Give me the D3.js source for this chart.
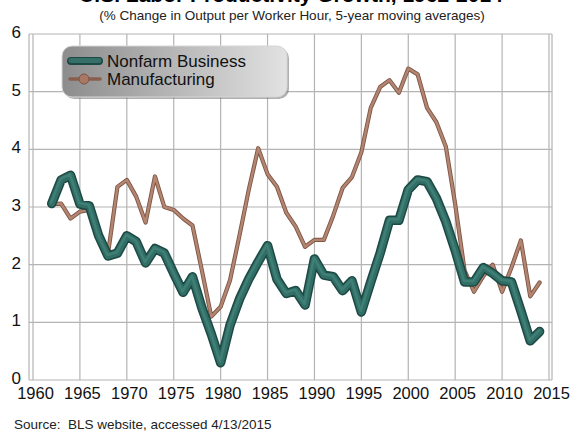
<!DOCTYPE html>
<html>
<head>
<meta charset="utf-8">
<script src="https://cdn.jsdelivr.net/npm/d3@7"></script>
<style>
  body { margin: 0; background: #fff; }
  svg { display: block; font-family: "Liberation Sans", Arial, sans-serif; }
</style>
</head>
<body>
<svg id="chart" width="582" height="432"></svg>
<script>
'use strict';

// years of the 5-year moving averages
var years = d3.range(1962, 2015);

// Nonfarm Business, % change in output per worker hour
var nonfarm = [3.06, 3.47, 3.55, 3.05, 3.02, 2.5, 2.15, 2.2, 2.5, 2.4,
  2.03, 2.28, 2.2, 1.85, 1.52, 1.79, 1.25, 0.8, 0.3, 0.95,
  1.4, 1.75, 2.05, 2.33, 1.75, 1.5, 1.55, 1.3, 2.1, 1.82,
  1.79, 1.55, 1.72, 1.18, 1.7, 2.2, 2.77, 2.77, 3.3, 3.47,
  3.44, 3.15, 2.75, 2.25, 1.7, 1.7, 1.95, 1.85, 1.72, 1.7,
  1.2, 0.68, 0.84];

// Manufacturing
var manufacturing = [3.05, 3.06, 2.8, 2.92, 2.95, 2.55, 2.2, 3.35, 3.47, 3.18,
  2.73, 3.53, 3.0, 2.95, 2.8, 2.68, 1.9, 1.1, 1.27, 1.73,
  2.5, 3.3, 4.02, 3.57, 3.35, 2.9, 2.66, 2.31, 2.43, 2.43,
  2.85, 3.33, 3.52, 3.95, 4.72, 5.08, 5.2, 4.98, 5.4, 5.3,
  4.72, 4.47, 4.05, 3.05, 1.9, 1.53, 1.8, 2.0, 1.53, 1.95,
  2.42, 1.45, 1.69];

var xTicks = d3.range(1960, 2016, 5);
var yTicks = [0, 1, 2, 3, 4, 5, 6];

var svg = d3.select("#chart");

var x = d3.scaleLinear().domain([1960, 2015]).range([33, 549]);
var y = d3.scaleLinear().domain([0, 6]).range([380, 34]);

//
// titles (main title sits mostly above the visible area, as in the source)
//
svg.append("text")
  .attr("x", 291).attr("y", 2)
  .attr("text-anchor", "middle")
  .style("font-size", "21px").style("font-weight", "bold")
  .text("U.S. Labor Productivity Growth, 1962-2014");

svg.append("text")
  .attr("x", 292).attr("y", 20)
  .attr("text-anchor", "middle")
  .style("font-size", "13.5px").attr("fill", "#222")
  .text("(% Change in Output per Worker Hour, 5-year moving averages)");

//
// grid
//
var grid = svg.append("g").attr("stroke", "#b4b4b4").attr("stroke-width", 1.2);

grid.selectAll(".vx").data(xTicks).enter().append("line")
  .attr("x1", d => x(d)).attr("x2", d => x(d))
  .attr("y1", y(6)).attr("y2", y(0));

grid.selectAll(".hy").data(yTicks).enter().append("line")
  .attr("x1", x(1960) - 4).attr("x2", x(2015) + 3)
  .attr("y1", d => y(d)).attr("y2", d => y(d));

grid.append("line")
  .attr("x1", x(1960) - 4).attr("x2", x(1960) - 4)
  .attr("y1", y(6)).attr("y2", y(0));
grid.append("line")
  .attr("x1", x(2015) + 3).attr("x2", x(2015) + 3)
  .attr("y1", y(6)).attr("y2", y(0));

//
// axes labels
//
var yAxis = svg.append("g")
  .attr("transform", "translate(" + (x(1960) - 12) + ",-2)")
  .call(d3.axisLeft(y).tickValues(yTicks).tickFormat(d3.format("d")).tickSize(0).tickPadding(0));
yAxis.select(".domain").remove();
yAxis.selectAll("text")
  .style("font-size", "17px")
  .style("font-family", "Liberation Sans, Arial, sans-serif")
  .attr("fill", "#111");

var xAxis = svg.append("g")
  .attr("transform", "translate(2," + (y(0) + 7) + ")")
  .call(d3.axisBottom(x).tickValues(xTicks).tickFormat(d3.format("d")).tickSize(0).tickPadding(0));
xAxis.select(".domain").remove();
xAxis.selectAll("text")
  .style("font-size", "16.5px")
  .style("font-family", "Liberation Sans, Arial, sans-serif")
  .attr("fill", "#111");

//
// lines
//
var line = d3.line()
  .x((d, i) => x(years[i]))
  .y(d => y(d));

var lines = svg.append("g")
  .attr("fill", "none")
  .attr("stroke-linejoin", "round")
  .attr("stroke-linecap", "round");

// manufacturing, thin brown line
lines.append("path").datum(manufacturing)
  .attr("d", line)
  .attr("stroke", "#7e5646").attr("stroke-width", 4.2);
lines.append("path").datum(manufacturing)
  .attr("d", line)
  .attr("stroke", "#b48672").attr("stroke-width", 2.4);

// nonfarm, thick teal line
lines.append("path").datum(nonfarm)
  .attr("d", line)
  .attr("stroke", "#1d4944").attr("stroke-width", 9.5);
lines.append("path").datum(nonfarm)
  .attr("d", line)
  .attr("stroke", "#316e66").attr("stroke-width", 6.5);
lines.append("path").datum(nonfarm)
  .attr("d", line)
  .attr("stroke", "#3f7f76").attr("stroke-width", 2.5)
  .attr("transform", "translate(-0.6,-1)");

//
// legend
//
var defs = svg.append("defs");
var grad = defs.append("linearGradient").attr("id", "legendFill")
  .attr("x1", "0%").attr("x2", "100%").attr("y1", "0%").attr("y2", "0%");
grad.append("stop").attr("offset", "0%").attr("stop-color", "#8c8c8c");
grad.append("stop").attr("offset", "100%").attr("stop-color", "#e2e2e2");

var legend = svg.append("g").attr("transform", "translate(62,46)");

legend.append("rect")
  .attr("x", 2).attr("y", 2).attr("width", 225).attr("height", 51)
  .attr("rx", 10).attr("fill", "#6f6f6f").attr("opacity", 0.55);
legend.append("rect")
  .attr("width", 225).attr("height", 51).attr("rx", 10)
  .attr("fill", "url(#legendFill)").attr("stroke", "#d6d6d6");

var items = [
  { name: "Nonfarm Business", y: 15 },
  { name: "Manufacturing", y: 33 }
];

legend.append("line")
  .attr("x1", 9).attr("x2", 37).attr("y1", items[0].y).attr("y2", items[0].y)
  .attr("stroke", "#1d4944").attr("stroke-width", 8).attr("stroke-linecap", "round");
legend.append("line")
  .attr("x1", 9).attr("x2", 37).attr("y1", items[0].y - 0.5).attr("y2", items[0].y - 0.5)
  .attr("stroke", "#356f67").attr("stroke-width", 5).attr("stroke-linecap", "round");

legend.append("line")
  .attr("x1", 8).attr("x2", 38).attr("y1", items[1].y).attr("y2", items[1].y)
  .attr("stroke", "#8a5e4c").attr("stroke-width", 3.5).attr("stroke-linecap", "round");
legend.append("circle")
  .attr("cx", 22).attr("cy", items[1].y).attr("r", 5)
  .attr("fill", "#a77865").attr("stroke", "#7e5646");

legend.selectAll(".lbl").data(items).enter().append("text")
  .attr("x", 45).attr("y", d => d.y + 6)
  .style("font-size", "17px").attr("fill", "#111")
  .text(d => d.name);

//
// source note
//
svg.append("text")
  .attr("x", 14).attr("y", 429)
  .style("font-size", "13.5px").attr("fill", "#222")
  .attr("xml:space", "preserve")
  .text("Source:  BLS website, accessed 4/13/2015");
</script>
</body>
</html>
